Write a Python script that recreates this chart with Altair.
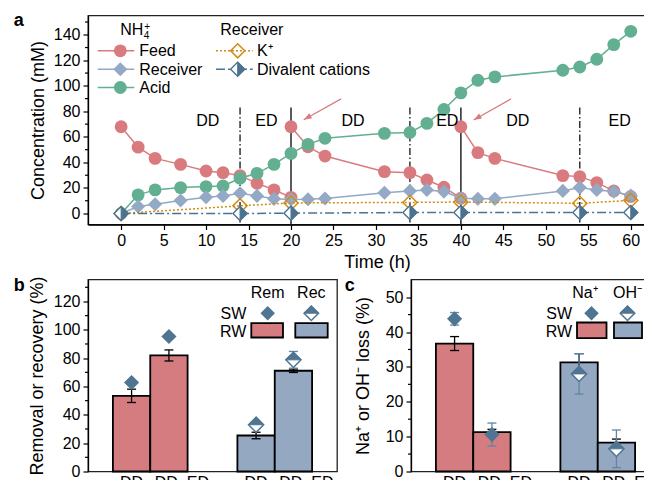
import altair as alt
import pandas as pd

FONT = "Liberation Sans"
RED = "#D97B7E"
GREEN = "#62AF92"
LBLUE = "#93A9C5"
ORANGE = "#D18C14"
DBLUE = "#4B7391"
RED_BAR = "#D57C80"
BLUE_BAR = "#94A8C2"
STEEL = "#4F7592"
STEEL_ERR = "#5F86A3"
RIGHT_HALF = "M0,-1L1,0L0,1Z"
TOP_HALF = "M-1,0L0,-1L1,0Z"

# ---------------- panel a data ----------------
feed_t = [0, 2, 4, 7, 10, 12, 14, 16, 18, 20,
          20, 22, 24, 31, 34, 36, 38, 40,
          40, 42, 44, 52, 54, 56, 58, 60]
feed_c = [68, 52, 43.2, 38.5, 33.3, 32, 29.7, 23.7, 18.5, 12.7,
          68, 52.3, 45, 32.8, 32, 26.3, 20.6, 12,
          68, 47.7, 43.2, 29.7, 28.9, 24.2, 17.7, 13.3]
feed_cycle = [1] * 10 + [2] * 8 + [3] * 8

series_t = [0, 2, 4, 7, 10, 12, 14, 16, 18, 20, 22, 24, 31, 34, 36, 38, 40, 42, 44, 52, 54, 56, 58, 60]
acid_c = [0, 14.6, 18.5, 20.3, 21.1, 21.6, 27.6, 31.5, 38.5, 47.1, 54.2, 58.9, 62.8, 63.5,
          70.6, 81.5, 94.5, 104.4, 107, 112.2, 114.8, 120.8, 132.3, 142.7]
recv_c = [0, 5.5, 7.3, 10.2, 12.8, 13.8, 15.9, 13.8, 11.5, 11, 11.2, 11.8, 16.3, 17.7,
          18.5, 17.2, 12, 11.5, 11.5, 17.7, 20.3, 18.5, 17.2, 14]

ion_t = [0, 14, 20, 34, 40, 54, 60]
k_c = [0, 6, 8.3, 8.7, 9, 8, 10.3]
div_c = [0, 0, 0.3, 0.8, 0.8, 0.8, 0.8]

vline_dashdot_t = [14, 34, 54]
vline_solid_t = [20, 40]
vline_top = 83
phase_t = [10.2, 17.1, 27.3, 38.4, 46.7, 58.7]
phase_lbl = ["DD", "ED", "DD", "ED", "DD", "ED"]
phase_c = 72.6
arrow_t0 = [25.9, 45.9]
arrow_c0 = [89.8, 89.8]
arrow_t1 = [21.5, 41.5]
arrow_c1 = [73.4, 73.2]

A_XDOM = [-3.9, 62.5]
A_YDOM = [-8.6, 155.1]
a_xticks = list(range(0, 61, 5))
a_yticks = list(range(0, 141, 20))
a_yminor = list(range(10, 151, 20))

# ---------------- panel b / c data ----------------
methods = ["DD", "DD\u2013ED", "DD", "DD\u2013ED"]
b_groups = ["rem", "rem", "rec", "rec"]
b_rw = [53.4, 81.9, 25.4, 71.1]
b_rw_err = [4.7, 3.9, 2.3, 1.2]
b_sw = [62.8, 95.3, 33.0, 78.8]
b_sw_err = [1.5, 1.0, 1.5, 5.9]

c_groups = ["na", "na", "oh", "oh"]
c_rw = [36.7, 11.3, 31.3, 8.3]
c_rw_err = [2.0, 0.8, 2.5, 1.0]
c_sw = [43.8, 10.6, 28.0, 6.5]
c_sw_err = [1.8, 3.3, 5.8, 5.4]

WA, HA = 564, 209
WB, HB = 249, 192

ONE = pd.DataFrame({"k": [0]})


def txt(s, x, y, size=16, align="left", baseline="alphabetic", weight="normal", color="black"):
    return alt.Chart(ONE).mark_text(text=s, font=FONT, fontSize=size, align=align,
                                    baseline=baseline, fontWeight=weight, color=color
                                    ).encode(x=alt.value(x), y=alt.value(y))


def seg(x1, x2, y, color, width=1.5, dash=None):
    kw = dict(color=color, strokeWidth=width)
    if dash:
        kw["strokeDash"] = dash
    return alt.Chart(ONE).mark_rule(**kw).encode(x=alt.value(x1), x2=alt.value(x2), y=alt.value(y))


def sym(x, y, shape, size, fill=None, stroke=None, sw=1.5):
    if fill is None:
        m = alt.Chart(ONE).mark_point(shape=shape, size=size, filled=False, color=stroke,
                                      strokeWidth=sw, opacity=1)
    else:
        m = alt.Chart(ONE).mark_point(shape=shape, size=size, filled=True, fill=fill,
                                      stroke=stroke if stroke else fill,
                                      strokeWidth=sw if stroke else 0, opacity=1)
    return m.encode(x=alt.value(x), y=alt.value(y))


def box(x1, x2, y1, y2, fill):
    return alt.Chart(ONE).mark_rect(fill=fill, stroke="black", strokeWidth=1.8).encode(
        x=alt.value(x1), x2=alt.value(x2), y=alt.value(y1), y2=alt.value(y2))


# ---------------- panel a ----------------
XA = alt.Scale(domain=A_XDOM, nice=False, zero=False)
YA = alt.Scale(domain=A_YDOM, nice=False, zero=False)
xaxis_a = alt.Axis(values=a_xticks, title="Time (h)", titleX=289, titleY=43,
                   titleBaseline="alphabetic", titleAlign="center", labelPadding=3)
yaxis_a = alt.Axis(values=a_yticks, title="Concentration (mM)", titleX=-41, titleY=HA / 2,
                   titleAlign="center", titleBaseline="bottom", labelPadding=3)


def AX(f):
    return alt.X(f, type="quantitative", scale=XA, axis=xaxis_a)


def AY(f):
    return alt.Y(f, type="quantitative", scale=YA, axis=yaxis_a)


xa = AX("t")
ya = AY("c")

feed_df = pd.DataFrame({"t": feed_t, "c": feed_c, "cyc": feed_cycle})
acid_df = pd.DataFrame({"t": series_t, "c": acid_c})
recv_df = pd.DataFrame({"t": series_t, "c": recv_c})
k_df = pd.DataFrame({"t": ion_t, "c": k_c})
div_df = pd.DataFrame({"t": ion_t, "c": div_c})
vdd_df = pd.DataFrame({"t": vline_dashdot_t, "top": [vline_top] * 3, "bot": [A_YDOM[0]] * 3})
vso_df = pd.DataFrame({"t": vline_solid_t, "top": [vline_top] * 2, "bot": [A_YDOM[0]] * 2})
ph_df = pd.DataFrame({"t": phase_t, "c": [phase_c] * len(phase_t), "lbl": phase_lbl})
ar_df = pd.DataFrame({"t": arrow_t0, "c": arrow_c0, "t1": arrow_t1, "c1": arrow_c1})
amin_df = pd.DataFrame({"v": a_yminor})

a_layers = [
    alt.Chart(vdd_df).mark_rule(color="black", strokeWidth=1.2, strokeDash=[7, 2.5, 1.5, 2.5]).encode(
        x=xa, y=AY("top"), y2="bot:Q"),
    alt.Chart(vso_df).mark_rule(color="#333333", strokeWidth=1.6).encode(
        x=xa, y=AY("top"), y2="bot:Q"),
    alt.Chart(amin_df).mark_rule(color="black", strokeWidth=1.2).encode(
        y=AY("v"), x=alt.value(-3), x2=alt.value(0)),
    alt.Chart(feed_df).mark_line(color=RED, strokeWidth=1.5).encode(x=xa, y=ya, detail="cyc:N"),
    alt.Chart(feed_df).mark_point(shape="circle", filled=True, size=165, color=RED, opacity=1,
                                  strokeWidth=0).encode(x=xa, y=ya),
    alt.Chart(acid_df).mark_line(color=GREEN, strokeWidth=1.5).encode(x=xa, y=ya),
    alt.Chart(acid_df).mark_point(shape="circle", filled=True, size=165, color=GREEN, opacity=1,
                                  strokeWidth=0).encode(x=xa, y=ya),
    alt.Chart(recv_df).mark_line(color=LBLUE, strokeWidth=1.5).encode(x=xa, y=ya),
    alt.Chart(recv_df).mark_point(shape="diamond", filled=True, size=200, color=LBLUE, opacity=1,
                                  strokeWidth=0).encode(x=xa, y=ya),
    alt.Chart(k_df).mark_line(color=ORANGE, strokeWidth=1.5, strokeDash=[2, 2]).encode(x=xa, y=ya),
    alt.Chart(k_df).mark_point(shape="diamond", filled=False, size=200, color=ORANGE, opacity=1,
                               strokeWidth=1.5).encode(x=xa, y=ya),
    alt.Chart(div_df).mark_line(color=DBLUE, strokeWidth=1.5, strokeDash=[9, 3, 2, 3]).encode(x=xa, y=ya),
    alt.Chart(div_df).mark_point(shape="diamond", filled=True, size=200, fill="white", stroke=DBLUE,
                                 opacity=1, strokeWidth=1.4).encode(x=xa, y=ya),
    alt.Chart(div_df).mark_point(shape=RIGHT_HALF, filled=True, size=200, fill=DBLUE, stroke=DBLUE,
                                 opacity=1, strokeWidth=1).encode(x=xa, y=ya),
    alt.Chart(ph_df).mark_text(font=FONT, fontSize=16, color="black", baseline="middle").encode(
        x=xa, y=ya, text="lbl:N"),
    alt.Chart(ar_df).mark_rule(color=RED, strokeWidth=1.2).encode(
        x=xa, y=ya, x2="t1:Q", y2="c1:Q"),
    alt.Chart(ar_df).mark_point(shape="M0,0L-0.5,1.4L0.5,1.4Z", filled=True, size=130, color=RED,
                                opacity=1, strokeWidth=0, angle=240).encode(x=AX("t1"), y=AY("c1")),
    # legend
    txt("NH", 32.3, 19.3),
    txt("4", 55.8, 23, size=10),
    txt("+", 56.3, 14.5, size=10),
    txt("Receiver", 132.3, 19.3),
    seg(9.7, 46.3, 35.3, RED), sym(32.3, 35.3, "circle", 165, fill=RED),
    txt("Feed", 51.3, 35.8, baseline="middle"),
    seg(9.7, 46.3, 53.7, LBLUE), sym(32.3, 53.7, "diamond", 200, fill=LBLUE),
    txt("Receiver", 51.3, 54.2, baseline="middle"),
    seg(9.7, 46.3, 72, GREEN), sym(32.3, 72, "circle", 165, fill=GREEN),
    txt("Acid", 51.3, 72.5, baseline="middle"),
    seg(128, 164.7, 35.3, ORANGE, dash=[2, 2]), sym(149.7, 35.3, "diamond", 200, stroke=ORANGE),
    txt("K\u207a", 169, 35.8, baseline="middle"),
    seg(128, 164.7, 53.7, DBLUE, dash=[9, 3, 2, 3]),
    sym(149.7, 53.7, "diamond", 200, fill="white", stroke=DBLUE, sw=1.4),
    sym(149.7, 53.7, RIGHT_HALF, 200, fill=DBLUE, stroke=DBLUE, sw=1),
    txt("Divalent cations", 169, 54.2, baseline="middle"),
    txt("a", -74.3, 10, size=18, weight="bold"),
]
panel_a = alt.layer(*a_layers).properties(width=WA, height=HA)


# ---------------- panels b, c ----------------
def bar_panel(groups, rw, rw_err, sw, sw_err, ydom, ymaj, ymin, ytitle, title_x,
              hdrs, hdr_x, sym_x, box_x, box_y, letter, letter_x):
    df = pd.DataFrame({"grp": groups, "meth": methods, "rw": rw,
                       "lo": [v - e for v, e in zip(rw, rw_err)],
                       "hi": [v + e for v, e in zip(rw, rw_err)],
                       "sw": sw,
                       "slo": [v - e for v, e in zip(sw, sw_err)],
                       "shi": [v + e for v, e in zip(sw, sw_err)]})
    gdom = [groups[0], groups[2]]
    XG = alt.Scale(domain=gdom, paddingInner=0.4, paddingOuter=0.2)
    XO = alt.Scale(domain=["DD", "DD\u2013ED"], paddingInner=0, paddingOuter=0)
    Y = alt.Scale(domain=ydom, nice=False, zero=True)
    yaxis = alt.Axis(values=ymaj, title=ytitle, titleX=title_x, titleY=HB / 2,
                     titleAlign="center", titleBaseline="bottom", labelPadding=3)
    x = alt.X("grp:N", scale=XG, axis=None)
    xo = alt.XOffset("meth:N", scale=XO)

    def BY(f):
        return alt.Y(f, type="quantitative", scale=Y, axis=yaxis)

    first = df[df.grp == gdom[0]]
    second = df[df.grp == gdom[1]]
    dd = df[df.meth == "DD"]
    dded = df[df.meth != "DD"]
    mdf = pd.DataFrame({"v": ymin})
    layers = [
        alt.Chart(df).mark_bar(stroke="black", strokeWidth=1.8, opacity=1).encode(
            x=x, xOffset=xo, y=BY("rw"),
            color=alt.Color("grp:N", scale=alt.Scale(domain=gdom, range=[RED_BAR, BLUE_BAR]), legend=None)),
        alt.Chart(mdf).mark_rule(color="black", strokeWidth=1.2).encode(
            y=BY("v"), x=alt.value(-3), x2=alt.value(0)),
        alt.Chart(df).mark_rule(color="black", strokeWidth=1.3).encode(
            x=x, xOffset=xo, y=BY("lo"), y2="hi:Q"),
        alt.Chart(df).mark_tick(color="black", thickness=1.3, size=9, opacity=1).encode(
            x=x, xOffset=xo, y=BY("lo")),
        alt.Chart(df).mark_tick(color="black", thickness=1.3, size=9, opacity=1).encode(
            x=x, xOffset=xo, y=BY("hi")),
        alt.Chart(df).mark_rule(color=STEEL_ERR, strokeWidth=1.3).encode(
            x=x, xOffset=xo, y=BY("slo"), y2="shi:Q"),
        alt.Chart(df).mark_tick(color=STEEL_ERR, thickness=1.3, size=9, opacity=1).encode(
            x=x, xOffset=xo, y=BY("slo")),
        alt.Chart(df).mark_tick(color=STEEL_ERR, thickness=1.3, size=9, opacity=1).encode(
            x=x, xOffset=xo, y=BY("shi")),
        alt.Chart(first).mark_point(shape="diamond", filled=True, size=230, color=STEEL,
                                    opacity=1, strokeWidth=0).encode(x=x, xOffset=xo, y=BY("sw")),
        alt.Chart(second).mark_point(shape="diamond", filled=True, size=230, fill="white",
                                     stroke=STEEL, opacity=1, strokeWidth=1.5).encode(
            x=x, xOffset=xo, y=BY("sw")),
        alt.Chart(second).mark_point(shape=TOP_HALF, filled=True, size=230, fill=STEEL,
                                     stroke=STEEL, opacity=1, strokeWidth=1).encode(
            x=x, xOffset=xo, y=BY("sw")),
        alt.Chart(dd).mark_text(font=FONT, fontSize=16, baseline="top", color="black").encode(
            x=x, xOffset=xo, y=alt.value(HB + 3), text="meth:N"),
        alt.Chart(dded).mark_text(font=FONT, fontSize=16, baseline="top", color="black", dx=13).encode(
            x=x, xOffset=xo, y=alt.value(HB + 3), text="meth:N"),
        # legend
        txt(hdrs[0], hdr_x[0], 18.3, align="center"),
        txt(hdrs[1], hdr_x[1], 18.3, align="center"),
        txt("SW", box_x[0][0] - 5, 39, align="right"),
        sym(sym_x[0], 33.7, "diamond", 210, fill=STEEL),
        sym(sym_x[1], 33.7, "diamond", 210, fill="white", stroke=STEEL, sw=1.5),
        sym(sym_x[1], 33.7, TOP_HALF, 210, fill=STEEL, stroke=STEEL, sw=1),
        txt("RW", box_x[0][0] - 5, 57.7, align="right"),
        box(box_x[0][0], box_x[0][1], box_y[0], box_y[1], RED_BAR),
        box(box_x[1][0], box_x[1][1], box_y[0], box_y[1], BLUE_BAR),
        txt(letter, letter_x, 11, size=18, weight="bold"),
    ]
    return alt.layer(*layers).properties(width=WB, height=HB)


panel_b = bar_panel(b_groups, b_rw, b_rw_err, b_sw, b_sw_err, [0, 135.5],
                    list(range(0, 121, 20)), list(range(10, 131, 20)),
                    "Removal or recovery (%)", -42,
                    ["Rem", "Rec"], [179.7, 223.3], [179.7, 223.3],
                    [[163.3, 195], [207.3, 239.7]], [43.7, 58], "b", -74.3)
panel_c = bar_panel(c_groups, c_rw, c_rw_err, c_sw, c_sw_err, [0, 55.07],
                    list(range(0, 51, 10)), list(range(5, 46, 10)),
                    "Na\u207a or OH\u207b loss (%)", -39,
                    ["Na\u207a", "OH\u207b"], [174, 216.5], [180.5, 216.5],
                    [[166, 195.5], [203, 231]], [43, 58.7], "c", -66.3)

chart = alt.vconcat(
    panel_a,
    alt.hconcat(panel_b, panel_c, spacing=74, bounds="flush"),
    spacing=55, bounds="flush",
).properties(
    padding={"left": 5, "top": 2.5, "right": -17, "bottom": -12}
).configure_view(
    stroke="#222222", strokeWidth=1.3
).configure_axis(
    labelFont=FONT, labelFontSize=16, labelColor="black",
    titleFont=FONT, titleFontSize=18, titleFontWeight="normal", titleColor="black",
    tickColor="black", domainColor="black", tickSize=5, tickWidth=1.2, domainWidth=1.3,
    grid=False,
)

chart.save("out.html", embed_options={"renderer": "svg", "actions": False})
